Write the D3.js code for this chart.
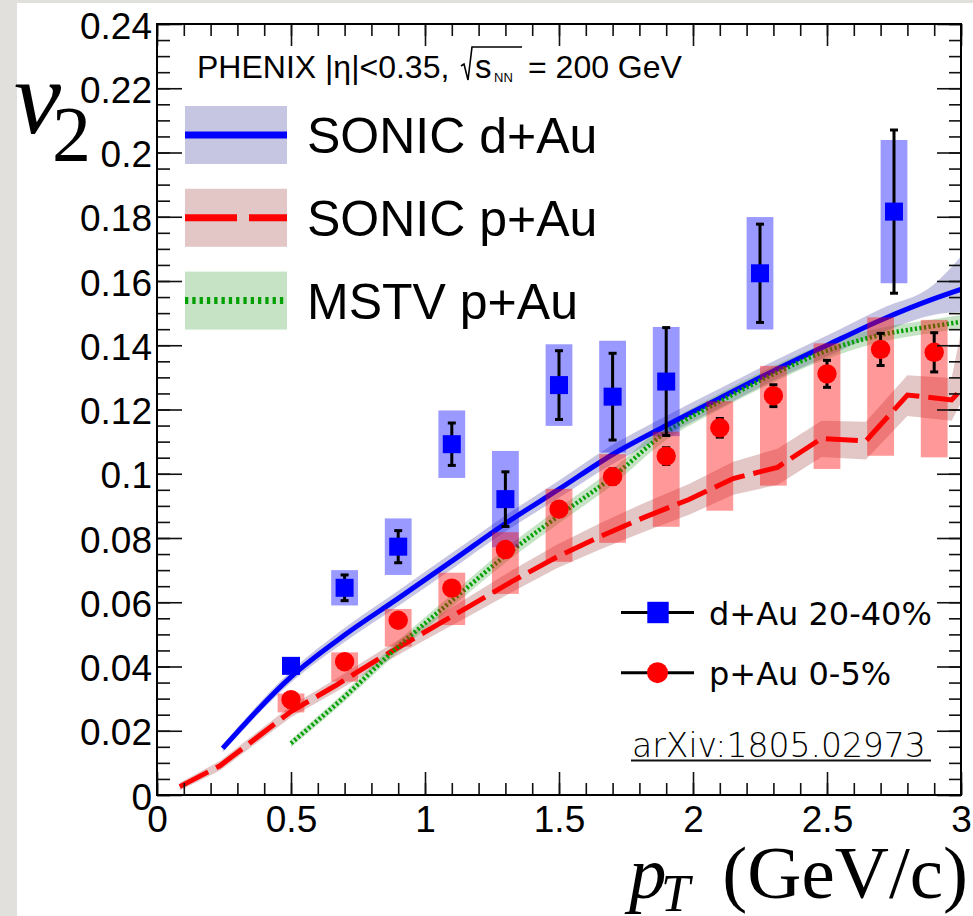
<!DOCTYPE html>
<html>
<head>
<meta charset="utf-8">
<script src="https://cdn.jsdelivr.net/npm/d3@7"></script>
<style>
  html, body { margin: 0; padding: 0; background: #fff; }
  svg { display: block; }
</style>
</head>
<body>
<svg id="chart" width="973" height="916"></svg>
<script>
// ---- Measured v2 vs pT: d+Au 20-40% (blue squares) ----
const dAuPt   = [0.5, 0.7, 0.9, 1.1, 1.3, 1.5, 1.7, 1.9, 2.25, 2.75];
const dAuV2   = [0.0402, 0.0645, 0.0773, 0.1092, 0.0921, 0.1276, 0.1240, 0.1287, 0.1624, 0.1816];
const dAuStat = [0.0015, 0.0040, 0.0050, 0.0066, 0.0085, 0.0107, 0.0135, 0.0168, 0.0153, 0.0254];
const dAuSys  = [0.0000, 0.0055, 0.0088, 0.0105, 0.0150, 0.0127, 0.0174, 0.0170, 0.0175, 0.0223];

// ---- Measured v2 vs pT: p+Au 0-5% (red circles) ----
const pAuPt    = [0.5, 0.7, 0.9, 1.1, 1.3, 1.5, 1.7, 1.9, 2.1, 2.3, 2.5, 2.7, 2.9];
const pAuV2    = [0.0297, 0.0415, 0.0544, 0.0644, 0.0764, 0.0890, 0.0991, 0.1055, 0.1143, 0.1243, 0.1311, 0.1387, 0.1378];
const pAuStat  = [0.0008, 0.0010, 0.0012, 0.0015, 0.0018, 0.0022, 0.0024, 0.0026, 0.0029, 0.0034, 0.0042, 0.0050, 0.0061];
const pAuSysUp = [0.0019, 0.0029, 0.0035, 0.0048, 0.0054, 0.0063, 0.0070, 0.0076, 0.0083, 0.0093, 0.0095, 0.0100, 0.0101];
const pAuSysDn = [0.0040, 0.0062, 0.0082, 0.0115, 0.0138, 0.0164, 0.0206, 0.0220, 0.0258, 0.0280, 0.0296, 0.0331, 0.0327];

// ---- SONIC d+Au calculation ----
const sonicDAuPt = [0.245, 0.5, 0.7, 0.9, 1.1, 1.3, 1.5, 1.7, 1.9, 2.1, 2.3, 2.5, 2.7, 2.9, 3.0];
const sonicDAuV2 = [0.0145, 0.0368, 0.0498, 0.0612, 0.0728, 0.0845, 0.0952, 0.1060, 0.1150, 0.1235, 0.1320, 0.1400, 0.1478, 0.1545, 0.1574];
const sonicDAuUp = [0.0012, 0.0018, 0.0022, 0.0024, 0.0025, 0.0025, 0.0027, 0.0030, 0.0030, 0.0030, 0.0030, 0.0030, 0.0035, 0.0045, 0.0102];
const sonicDAuDn = [0.0012, 0.0018, 0.0022, 0.0024, 0.0025, 0.0025, 0.0027, 0.0030, 0.0030, 0.0030, 0.0030, 0.0035, 0.0040, 0.0050, 0.0070];

// ---- SONIC p+Au calculation ----
const sonicPAuPt = [0.085, 0.235, 0.5, 0.665, 0.83, 0.995, 1.16, 1.325, 1.49, 1.655, 1.82, 1.985, 2.15, 2.315, 2.48, 2.645, 2.80, 2.965, 3.0];
const sonicPAuV2 = [0.0026, 0.0091, 0.0260, 0.0340, 0.0425, 0.0505, 0.0585, 0.0665, 0.0740, 0.0805, 0.0865, 0.0920, 0.0985, 0.1020, 0.1110, 0.1102, 0.1245, 0.1230, 0.1261];
const sonicPAuUp = [0.0012, 0.0015, 0.0018, 0.0020, 0.0022, 0.0025, 0.0030, 0.0035, 0.0038, 0.0042, 0.0045, 0.0048, 0.0052, 0.0058, 0.0055, 0.0060, 0.0062, 0.0068, 0.0180];
const sonicPAuDn = [0.0012, 0.0015, 0.0018, 0.0020, 0.0022, 0.0025, 0.0030, 0.0033, 0.0035, 0.0040, 0.0045, 0.0048, 0.0050, 0.0055, 0.0058, 0.0058, 0.0065, 0.0065, 0.0040];

// ---- MSTV p+Au calculation ----
const mstvPt = [0.5, 0.7, 0.9, 1.1, 1.3, 1.5, 1.7, 1.9, 2.1, 2.3, 2.5, 2.7, 2.9, 3.0];
const mstvV2 = [0.0161, 0.0306, 0.0462, 0.0605, 0.0745, 0.0870, 0.0990, 0.1130, 0.1225, 0.1310, 0.1383, 0.1432, 0.1460, 0.1473];
const mstvErr = [0.0012, 0.0015, 0.0018, 0.0020, 0.0022, 0.0024, 0.0025, 0.0025, 0.0025, 0.0025, 0.0025, 0.0022, 0.0021, 0.0021];

// ---- Axis ticks ----
const xTickValues = [0, 0.5, 1, 1.5, 2, 2.5, 3];
const yTickValues = [0, 0.02, 0.04, 0.06, 0.08, 0.1, 0.12, 0.14, 0.16, 0.18, 0.2, 0.22, 0.24];

// ---- Legend entries ----
const bandLegend = [
  { label: "SONIC d+Au", fill: "rgba(51,51,153,0.28)", stroke: "#0000ff", dash: null, width: 7 },
  { label: "SONIC p+Au", fill: "rgba(153,51,51,0.28)", stroke: "#ff0000", dash: "52,12", width: 7 },
  { label: "MSTV p+Au",  fill: "rgba(51,153,51,0.28)", stroke: "#00a000", dash: "3.3,4", width: 7 }
];
const pointLegend = [
  { label: "d+Au 20-40%", shape: "square", color: "#0000ff" },
  { label: "p+Au 0-5%",   shape: "circle", color: "#ff0000" }
];

const W = 973, H = 916;
const svg = d3.select("#chart");

const x = d3.scaleLinear().domain([0, 3]).range([157, 961]);
const y = d3.scaleLinear().domain([0, 0.24]).range([795, 24]);
const [x0, x1] = x.range();
const [yb, yt] = y.range();

// page background and canvas
svg.append("rect").attr("width", W).attr("height", H).attr("fill", "#e2e0dc");
svg.append("rect").attr("x", 17).attr("y", 3).attr("width", W - 17).attr("height", H - 3).attr("fill", "#ffffff");

svg.append("clipPath").attr("id", "plotclip")
  .append("rect").attr("x", x0).attr("y", yt).attr("width", x1 - x0).attr("height", yb - yt);

const plot = svg.append("g").attr("clip-path", "url(#plotclip)");

// ---- theory bands ----
function bandData(pt, v, up, dn) {
  return pt.map((p, i) => ({ pt: p, lo: v[i] - dn[i], hi: v[i] + up[i], v: v[i] }));
}
const sonicDAu = bandData(sonicDAuPt, sonicDAuV2, sonicDAuUp, sonicDAuDn);
const sonicPAu = bandData(sonicPAuPt, sonicPAuV2, sonicPAuUp, sonicPAuDn);
const mstv = bandData(mstvPt, mstvV2, mstvErr, mstvErr);

const areaSmooth = d3.area().curve(d3.curveMonotoneX).x(d => x(d.pt)).y0(d => y(d.lo)).y1(d => y(d.hi));
const areaLinear = d3.area().x(d => x(d.pt)).y0(d => y(d.lo)).y1(d => y(d.hi));
const lineSmooth = d3.line().curve(d3.curveMonotoneX).x(d => x(d.pt)).y(d => y(d.v));
const lineLinear = d3.line().x(d => x(d.pt)).y(d => y(d.v));

plot.append("path").datum(sonicDAu).attr("d", areaSmooth).attr("fill", bandLegend[0].fill);
plot.append("path").datum(sonicPAu).attr("d", areaLinear).attr("fill", bandLegend[1].fill);
plot.append("path").datum(mstv).attr("d", areaSmooth).attr("fill", bandLegend[2].fill);

plot.append("path").datum(sonicDAu).attr("d", lineSmooth)
  .attr("fill", "none").attr("stroke", "#0000ff").attr("stroke-width", 5);
plot.append("path").datum(sonicPAu).attr("d", lineLinear)
  .attr("fill", "none").attr("stroke", "#ff0000").attr("stroke-width", 5)
  .attr("stroke-dasharray", "32,9");
plot.append("path").datum(mstv).attr("d", lineSmooth)
  .attr("fill", "none").attr("stroke", "#00a000").attr("stroke-width", 4.5)
  .attr("stroke-dasharray", "2.2,2.4");

// ---- data points ----
const dAu = dAuPt.map((p, i) => ({ pt: p, v: dAuV2[i], stat: dAuStat[i], up: dAuSys[i], dn: dAuSys[i] }));
const pAu = pAuPt.map((p, i) => ({ pt: p, v: pAuV2[i], stat: pAuStat[i], up: pAuSysUp[i], dn: pAuSysDn[i] }));
const boxHalf = 0.05;

const pts = svg.append("g");

function sysBoxes(data, fill) {
  pts.append("g").selectAll("rect").data(data.filter(d => d.up + d.dn > 0)).join("rect")
    .attr("x", d => x(d.pt - boxHalf))
    .attr("width", d => x(d.pt + boxHalf) - x(d.pt - boxHalf))
    .attr("y", d => y(d.v + d.up))
    .attr("height", d => y(d.v - d.dn) - y(d.v + d.up))
    .attr("fill", fill);
}
sysBoxes(dAu, "rgba(0,0,255,0.4)");
sysBoxes(pAu, "rgba(255,0,0,0.4)");

function statBars(data) {
  const g = pts.append("g").attr("stroke", "#000").attr("stroke-width", 3);
  data.forEach(d => {
    const cx = x(d.pt), ya = y(d.v + d.stat), yb2 = y(d.v - d.stat);
    g.append("line").attr("x1", cx).attr("x2", cx).attr("y1", ya).attr("y2", yb2);
    g.append("line").attr("x1", cx - 4).attr("x2", cx + 4).attr("y1", ya).attr("y2", ya);
    g.append("line").attr("x1", cx - 4).attr("x2", cx + 4).attr("y1", yb2).attr("y2", yb2);
  });
}
statBars(dAu);
statBars(pAu);

pts.append("g").selectAll("rect").data(dAu).join("rect")
  .attr("x", d => x(d.pt) - 9).attr("y", d => y(d.v) - 9)
  .attr("width", 18).attr("height", 18).attr("fill", "#0000ff");
pts.append("g").selectAll("circle").data(pAu).join("circle")
  .attr("cx", d => x(d.pt)).attr("cy", d => y(d.v)).attr("r", 9.7).attr("fill", "#ff0000");

// ---- axes ----
const fmt = d3.format("~g");
const tickFont = "'Liberation Sans', Arial, Helvetica, sans-serif";

function styleTicks(g) {
  g.select(".domain").remove();
  g.selectAll(".tick line").attr("stroke", "#111").attr("stroke-width", 1.6);
}

// minor ticks
svg.append("g").attr("transform", `translate(${x0},0)`)
  .call(d3.axisLeft(y).tickValues(y.ticks(48)).tickSize(-13).tickFormat(""))
  .call(styleTicks);
svg.append("g").attr("transform", `translate(${x1},0)`)
  .call(d3.axisRight(y).tickValues(y.ticks(48)).tickSize(-12).tickFormat(""))
  .call(styleTicks);
svg.append("g").attr("transform", `translate(0,${yb})`)
  .call(d3.axisBottom(x).tickValues(x.ticks(30)).tickSize(-12).tickFormat(""))
  .call(styleTicks);
svg.append("g").attr("transform", `translate(0,${yt})`)
  .call(d3.axisTop(x).tickValues(x.ticks(30)).tickSize(-12).tickFormat(""))
  .call(styleTicks);

// major ticks with labels
const yAxis = svg.append("g").attr("transform", `translate(${x0},0)`)
  .call(d3.axisLeft(y).tickValues(yTickValues).tickSize(-25).tickPadding(5).tickFormat(fmt))
  .call(styleTicks);
yAxis.selectAll(".tick text")
  .attr("x", -5).attr("dy", "0.38em")
  .attr("fill", "#000").style("font-family", tickFont).style("font-size", "37px");

svg.append("g").attr("transform", `translate(${x1},0)`)
  .call(d3.axisRight(y).tickValues(yTickValues).tickSize(-24).tickFormat(""))
  .call(styleTicks);

const xAxis = svg.append("g").attr("transform", `translate(0,${yb})`)
  .call(d3.axisBottom(x).tickValues(xTickValues).tickSize(-23).tickFormat(fmt))
  .call(styleTicks);
xAxis.selectAll(".tick text")
  .attr("y", 37).attr("dy", 0)
  .attr("fill", "#000").style("font-family", tickFont).style("font-size", "37px");

svg.append("g").attr("transform", `translate(0,${yt})`)
  .call(d3.axisTop(x).tickValues(xTickValues).tickSize(-22).tickFormat(""))
  .call(styleTicks);

// frame
svg.append("rect").attr("x", x0).attr("y", yt).attr("width", x1 - x0).attr("height", yb - yt)
  .attr("fill", "none").attr("stroke", "#000").attr("stroke-width", 2);

// ---- axis titles ----
const serif = "'Liberation Serif', 'Times New Roman', Times, serif";
svg.append("text").attr("x", 14).attr("y", 133)
  .style("font-family", serif).style("font-style", "italic").style("font-size", "106px").text("v");
svg.append("text").attr("x", 52).attr("y", 160)
  .style("font-family", serif).style("font-size", "78px").text("2");

svg.append("text").attr("x", 629).attr("y", 898)
  .style("font-family", serif).style("font-style", "italic").style("font-size", "75px").text("p");
svg.append("text").attr("x", 661).attr("y", 911)
  .style("font-family", serif).style("font-style", "italic").style("font-size", "52px").text("T");
svg.append("text").attr("x", 968).attr("y", 898).attr("text-anchor", "end")
  .style("font-family", serif).style("font-size", "75px").text("(GeV/c)");

// ---- header ----
const hdr = svg.append("g").style("font-family", tickFont).attr("fill", "#000");
hdr.append("text").attr("x", 197).attr("y", 78).style("font-size", "32px").text("PHENIX |η|<0.35,");
hdr.append("path").attr("d", "M461,66 L464,64 L468,80 L472,47 L522,47")
  .attr("fill", "none").attr("stroke", "#000").attr("stroke-width", 1.6);
hdr.append("text").attr("x", 475).attr("y", 78).style("font-size", "33px").text("s");
hdr.append("text").attr("x", 494).attr("y", 82).style("font-size", "13px").text("NN");
hdr.append("text").attr("x", 528).attr("y", 78).style("font-size", "32px").text("= 200 GeV");

// ---- band legend ----
const lg = svg.append("g");
bandLegend.forEach((e, i) => {
  const cy = 135 + i * 82.8;
  lg.append("rect").attr("x", 185).attr("y", cy - 29).attr("width", 102).attr("height", 58).attr("fill", e.fill);
  const l = lg.append("line").attr("x1", 185).attr("x2", 287).attr("y1", cy).attr("y2", cy)
    .attr("stroke", e.stroke).attr("stroke-width", e.width);
  if (e.dash) l.attr("stroke-dasharray", e.dash);
  lg.append("text").attr("x", 307).attr("y", cy + 18)
    .style("font-family", tickFont).style("font-size", "50px").text(e.label);
});

// ---- point legend ----
const pg = svg.append("g");
pointLegend.forEach((e, i) => {
  const cy = 612.5 + i * 60.2;
  pg.append("line").attr("x1", 621).attr("x2", 694).attr("y1", cy).attr("y2", cy)
    .attr("stroke", "#000").attr("stroke-width", 3);
  if (e.shape === "square") {
    pg.append("rect").attr("x", 647.3).attr("y", cy - 10.7).attr("width", 21.4).attr("height", 21.4).attr("fill", e.color);
  } else {
    pg.append("circle").attr("cx", 657.5).attr("cy", cy).attr("r", 10.5).attr("fill", e.color);
  }
  pg.append("text").attr("x", 709).attr("y", cy + 12)
    .style("font-family", "'DejaVu Sans', Verdana, sans-serif").style("font-size", "32px").text(e.label);
});

// ---- reference tag ----
svg.append("text").attr("x", 632).attr("y", 756.5)
  .style("font-family", "'DejaVu Sans', sans-serif").style("font-weight", 200).style("font-size", "33px")
  .attr("fill", "#000").text("arXiv:1805.02973");
svg.append("line").attr("x1", 631).attr("x2", 931).attr("y1", 760.5).attr("y2", 760.5)
  .attr("stroke", "#111").attr("stroke-width", 2);
</script>
</body>
</html>
